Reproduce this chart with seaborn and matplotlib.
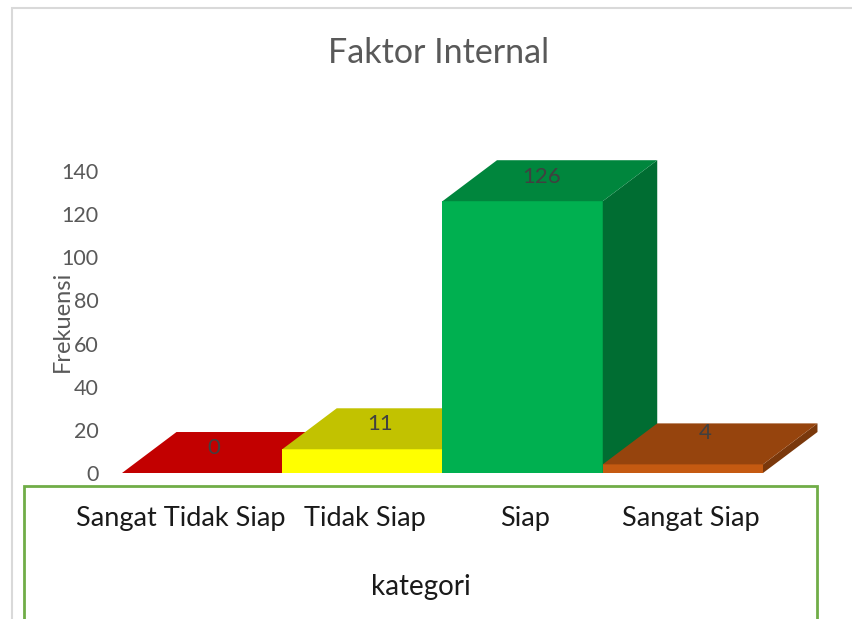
import matplotlib
matplotlib.use("Agg")
import matplotlib.pyplot as plt
import matplotlib.transforms as mtrans
from matplotlib.colors import to_rgb
from matplotlib.patches import Polygon, Rectangle
import pandas as pd
import seaborn as sns

categories = ["Sangat Tidak Siap", "Tidak Siap", "Siap", "Sangat Siap"]
values = [0, 11, 126, 4]
bar_colors = ["#FF0000", "#FFFF00", "#00B050", "#C55A11"]
y_ticks = [0, 20, 40, 60, 80, 100, 120, 140]

W, H = 853, 619

sns.set_theme(style="white")
plt.rcParams["font.family"] = ["Lato", "DejaVu Sans"]

df = pd.DataFrame({"kategori": categories, "Frekuensi": values})

fig = plt.figure(figsize=(W / 100, H / 100), dpi=100)
ax = fig.add_axes([122 / W, 1 - 473 / H, 641 / W, 302 / H])
ax.patch.set_alpha(0)

sns.barplot(data=df, x="kategori", y="Frekuensi", hue="kategori", palette=bar_colors,
            order=categories, hue_order=categories, width=1, saturation=1,
            legend=False, ax=ax)
ax.set_xlim(-0.5, 3.5)
ax.set_ylim(0, 140)
ax.set_yticks(y_ticks)


def shade(color, k):
    return tuple(c * k for c in to_rgb(color))


# fake 3d: top and side faces pushed back from each bar
depth_x = 0.34
depth_y = 19
# where each value label sits on its top face
label_dx = [0.07, 0.11, 0.12, 0.14]
label_dy = [11.5, 11.5, 11, 14.5]
for i, (bar, col) in enumerate(zip(ax.patches, bar_colors)):
    z = 2 + i
    x0 = bar.get_x()
    x1 = x0 + bar.get_width()
    h = bar.get_height()
    bar.set_zorder(z)
    bar.set_edgecolor("none")
    top = [(x0, h), (x1, h), (x1 + depth_x, h + depth_y), (x0 + depth_x, h + depth_y)]
    side = [(x1, 0), (x1 + depth_x, depth_y), (x1 + depth_x, h + depth_y), (x1, h)]
    ax.add_patch(Polygon(side, closed=True, fc=shade(col, 0.62), ec="none", zorder=z, clip_on=False))
    ax.add_patch(Polygon(top, closed=True, fc=shade(col, 0.76), ec="none", zorder=z, clip_on=False))
    ax.text((x0 + x1) / 2 + label_dx[i], h + label_dy[i], str(values[i]), ha="center", va="center",
            fontsize=16, color="#404040", zorder=10, clip_on=False)

sns.despine(ax=ax, left=True, bottom=True)
ax.tick_params(axis="y", length=0, pad=17, labelsize=15.5, labelcolor="#595959")
ax.tick_params(axis="x", length=0, pad=23.5, labelsize=19.5, labelcolor="#1a1a1a")

# category labels sit a bit off the bar centres in the original
shifts = [-21, 3, 2, 8]
for lab, s in zip(ax.get_xticklabels(), shifts):
    lab.set_transform(lab.get_transform() + mtrans.ScaledTranslation(s / 100, 0, fig.dpi_scale_trans))

ax.set_xlabel("kategori", fontsize=20, color="#1a1a1a", va="center")
ax.xaxis.set_label_coords((421 - 122) / 641, -(587 - 473) / 302)
ax.set_ylabel("Frekuensi", fontsize=17, color="#595959", va="center")
ax.yaxis.set_label_coords(-(122 - 62) / 641, (473 - 321) / 302)

fig.text(439 / W, 1 - 53 / H, "Faktor Internal", ha="center", va="center",
         fontsize=24.5, color="#595959")

# chart border and the green box around the axis labels
fig.add_artist(Rectangle((12 / W, -0.1), 1.2, 1.1 - 8 / H, transform=fig.transFigure,
                         fc="none", ec="#D9D9D9", lw=1.5, zorder=0))
fig.add_artist(Rectangle((24 / W, -0.1), (817 - 24) / W, 0.1 + 1 - 486 / H, transform=fig.transFigure,
                         fc="none", ec="#70AD47", lw=2, zorder=0))

fig.savefig("out.png", dpi=100)
